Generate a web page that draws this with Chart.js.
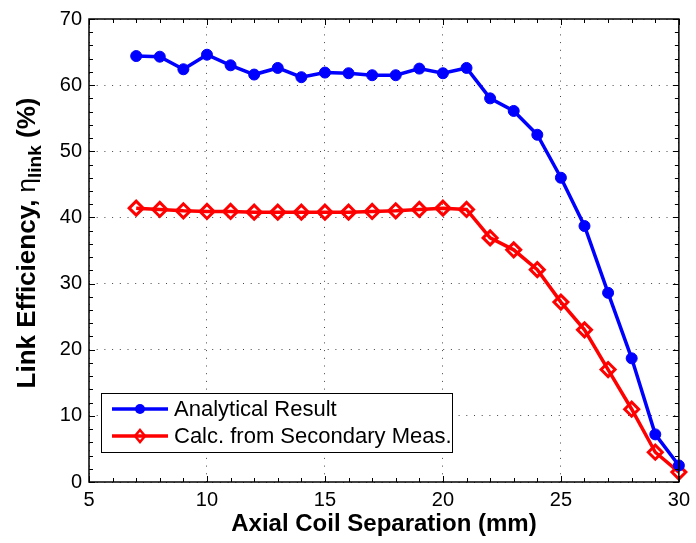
<!DOCTYPE html>
<html>
<head>
<meta charset="utf-8">
<script src="https://cdn.jsdelivr.net/npm/chart.js@4/dist/chart.umd.min.js"></script>
<style>
  html, body { margin: 0; padding: 0; background: #fff; }
  #wrap { width: 696px; height: 543px; position: relative; }
</style>
</head>
<body>
<div id="wrap"><canvas id="eff"></canvas></div>
<script>
// axial separation (mm)
const separation = [7, 8, 9, 10, 11, 12, 13, 14, 15, 16, 17, 18, 19, 20, 21, 22, 23, 24, 25, 26, 27, 28, 29, 30];
// link efficiency (%)
const analytical = [64.4, 64.3, 62.4, 64.6, 63.0, 61.6, 62.6, 61.2, 61.9, 61.8, 61.5, 61.5, 62.5, 61.8, 62.6,
                    58.0, 56.1, 52.5, 46.0, 38.7, 28.6, 18.7, 7.2, 2.5];
const secondary  = [41.4, 41.2, 41.0, 40.9, 40.9, 40.8, 40.8, 40.8, 40.8, 40.8, 40.9, 41.0, 41.2, 41.4, 41.2,
                    36.9, 35.1, 32.1, 27.2, 23.0, 17.0, 11.0, 4.5, 1.5];
const seriesNames = ['Analytical Result', 'Calc. from Secondary Meas.'];

const FONT = '"Liberation Sans", Arial, sans-serif';

const toPoints = ys => separation.map((x, i) => ({ x: x, y: ys[i] }));

// ticks inside the box on all four sides, plus the box itself
const frame = {
    id: 'frame',
    afterDatasetsDraw(chart) {
        const { ctx, chartArea: a, scales: { x, y } } = chart;
        ctx.save();
        ctx.strokeStyle = '#000';
        ctx.lineWidth = 1;
        ctx.beginPath();
        for (let v = 5; v <= 30; v++) {
            const px = Math.round(x.getPixelForValue(v)) + 0.5;
            const len = v % 5 === 0 ? 6 : 4;
            ctx.moveTo(px, a.bottom); ctx.lineTo(px, a.bottom - len);
            ctx.moveTo(px, a.top); ctx.lineTo(px, a.top + len);
        }
        for (let v = 0; v <= 70; v += 2) {
            const py = Math.round(y.getPixelForValue(v)) + 0.5;
            const len = v % 10 === 0 ? 6 : 4;
            ctx.moveTo(a.left, py); ctx.lineTo(a.left + len, py);
            ctx.moveTo(a.right, py); ctx.lineTo(a.right - len, py);
        }
        ctx.stroke();
        ctx.lineWidth = 1.5;
        ctx.strokeRect(a.left, a.top, a.right - a.left, a.bottom - a.top);
        ctx.restore();
    },
    afterDraw(chart) {
        const { ctx } = chart;
        // legend inside the plot
        ctx.save();
        const bx = 101, by = 393, bw = 351, bh = 59;
        ctx.fillStyle = '#fff';
        ctx.fillRect(bx, by, bw, bh);
        ctx.strokeStyle = '#000';
        ctx.lineWidth = 1;
        ctx.strokeRect(bx + 0.5, by + 0.5, bw, bh);
        chart.data.datasets.forEach((ds, i) => {
            const ly = 409 + i * 27;
            ctx.strokeStyle = ds.borderColor;
            ctx.lineWidth = 3.5;
            ctx.beginPath();
            ctx.moveTo(112, ly); ctx.lineTo(168, ly);
            ctx.stroke();
            ctx.fillStyle = ds.pointBackgroundColor;
            ctx.beginPath();
            if (ds.pointStyle === 'circle') {
                ctx.arc(140, ly, 5, 0, Math.PI * 2);
                ctx.fill();
            } else {
                ctx.lineWidth = 2.5;
                ctx.moveTo(140, ly - 6); ctx.lineTo(145, ly); ctx.lineTo(140, ly + 6); ctx.lineTo(135, ly);
                ctx.closePath();
                ctx.stroke();
            }
            ctx.fillStyle = '#000';
            ctx.font = '22px ' + FONT;
            ctx.textBaseline = 'middle';
            ctx.fillText(ds.label, 174, ly + 1);
        });
        ctx.restore();

        // y title with subscript
        ctx.save();
        ctx.translate(28, 243);
        ctx.rotate(-Math.PI / 2);
        ctx.fillStyle = '#000';
        ctx.textBaseline = 'middle';
        const parts = [
            { t: 'Link Efficiency, ', f: 'bold 26px ' + FONT, dy: 0 },
            { t: '\u03b7', f: '26px ' + FONT, dy: 0 },
            { t: 'link', f: 'bold 19px ' + FONT, dy: 8 },
            { t: ' (%)', f: 'bold 26px ' + FONT, dy: 0 }
        ];
        let total = 0;
        parts.forEach(p => { ctx.font = p.f; p.w = ctx.measureText(p.t).width; total += p.w; });
        let cx = -total / 2;
        parts.forEach(p => { ctx.font = p.f; ctx.fillText(p.t, cx, p.dy); cx += p.w; });
        ctx.restore();
    }
};

new Chart(document.getElementById('eff'), {
    type: 'line',
    data: {
        datasets: [{
            label: seriesNames[0],
            data: toPoints(analytical),
            borderColor: '#0000ff',
            backgroundColor: '#0000ff',
            pointBackgroundColor: '#0000ff',
            pointBorderColor: '#0000ff',
            pointStyle: 'circle',
            pointRadius: 5.5,
            pointBorderWidth: 1,
            borderWidth: 3.5,
            tension: 0
        }, {
            label: seriesNames[1],
            data: toPoints(secondary),
            borderColor: '#ff0000',
            backgroundColor: 'rgba(0,0,0,0)',
            pointBackgroundColor: 'rgba(0,0,0,0)',
            pointBorderColor: '#ff0000',
            pointStyle: 'rectRot',
            pointRadius: 7,
            pointBorderWidth: 3,
            borderWidth: 3.5,
            tension: 0
        }]
    },
    options: {
        responsive: true,
        maintainAspectRatio: false,
        animation: false,
        clip: false,
        layout: { padding: { top: 15, right: 13, left: 0, bottom: 0 } },
        plugins: { legend: { display: false }, tooltip: { enabled: false } },
        scales: {
            x: {
                type: 'linear',
                min: 5, max: 30,
                afterFit: s => { s.height = 61; },
                ticks: { stepSize: 5, color: '#000', padding: 6, font: { family: FONT, size: 20 } },
                grid: { color: '#444', drawTicks: false, lineWidth: 1 },
                border: { display: false, dash: [1, 6.7] },
                title: {
                    display: true,
                    text: 'Axial Coil Separation (mm)',
                    color: '#000',
                    font: { family: FONT, size: 24, weight: 'bold' },
                    padding: { top: 0, bottom: 4 }
                }
            },
            y: {
                min: 0, max: 70,
                afterFit: s => { s.width = 89; },
                ticks: { stepSize: 10, color: '#000', padding: 7, font: { family: FONT, size: 20 } },
                grid: { color: '#444', drawTicks: false, lineWidth: 1 },
                border: { display: false, dash: [1, 6.7] }
            }
        }
    },
    plugins: [frame]
});
</script>
</body>
</html>
